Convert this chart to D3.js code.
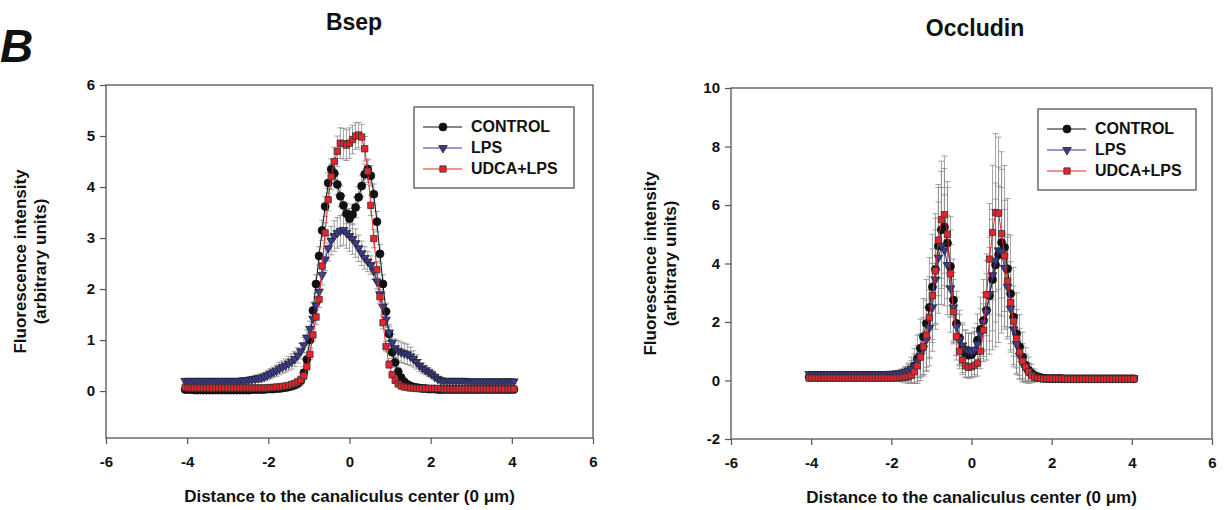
<!DOCTYPE html>
<html>
<head>
<meta charset="utf-8">
<script src="https://cdn.jsdelivr.net/npm/d3@7"></script>
<style>
  body { margin: 0; background: #fff; }
  text { font-family: Arial, "Liberation Sans", sans-serif; font-weight: bold; fill: #111; }
</style>
</head>
<body>
<svg id="fig" width="1227" height="510"></svg>
<script>
// distance to the canaliculus center (um), shared by every profile
const distance = [
  -4.05,-3.975,-3.9,-3.825,-3.75,-3.675,-3.6,-3.525,-3.45,-3.375,
  -3.3,-3.225,-3.15,-3.075,-3,-2.925,-2.85,-2.775,-2.7,-2.625,
  -2.55,-2.475,-2.4,-2.325,-2.25,-2.175,-2.1,-2.025,-1.95,
  -1.875,-1.8,-1.725,-1.65,-1.575,-1.5,-1.425,-1.35,-1.275,-1.2,
  -1.125,-1.05,-0.975,-0.9,-0.825,-0.75,-0.675,-0.6,-0.525,-0.45,
  -0.375,-0.3,-0.225,-0.15,-0.075,0,0.075,0.15,0.225,0.3,
  0.375,0.45,0.525,0.6,0.675,0.75,0.825,0.9,0.975,1.05,
  1.125,1.2,1.275,1.35,1.425,1.5,1.575,1.65,1.725,1.8,1.875,
  1.95,2.025,2.1,2.175,2.25,2.325,2.4,2.475,2.55,2.625,
  2.7,2.775,2.85,2.925,3,3.075,3.15,3.225,3.3,3.375,
  3.45,3.525,3.6,3.675,3.75,3.825,3.9,3.975,4.05
];

const seriesNames = ["CONTROL", "LPS", "UDCA+LPS"];

// ---- Bsep ----
const bsepControl = [
  0.03,0.03,0.03,0.02,0.02,0.02,0.02,0.02,0.02,0.02,
  0.02,0.02,0.02,0.02,0.02,0.02,0.02,0.02,0.02,0.02,
  0.02,0.02,0.03,0.03,0.03,0.03,0.03,0.04,0.04,
  0.04,0.05,0.05,0.06,0.07,0.08,0.1,0.12,0.15,0.2,
  0.36,0.62,1.0,1.58,2.1,2.65,3.15,3.62,4.08,4.35,
  4.27,4.05,3.82,3.64,3.48,3.38,3.46,3.6,3.8,4.02,
  4.25,4.35,4.22,3.86,3.32,2.69,2.1,1.56,1.12,0.76,
  0.56,0.38,0.26,0.18,0.13,0.1,0.08,0.07,0.06,0.05,0.05,
  0.04,0.04,0.04,0.03,0.03,0.03,0.03,0.03,0.03,0.03,
  0.03,0.03,0.03,0.03,0.03,0.03,0.03,0.03,0.03,0.03,
  0.03,0.03,0.03,0.03,0.03,0.03,0.03,0.03,0.03
];
const bsepControlErr = [
  0.06,0.06,0.06,0.06,0.06,0.06,0.06,0.06,0.06,0.06,
  0.06,0.06,0.06,0.06,0.06,0.06,0.06,0.06,0.06,0.06,
  0.06,0.06,0.06,0.06,0.06,0.06,0.06,0.06,0.06,
  0.06,0.06,0.06,0.06,0.07,0.07,0.08,0.08,0.09,0.1,
  0.12,0.14,0.15,0.16,0.18,0.18,0.2,0.2,0.2,0.2,
  0.2,0.2,0.2,0.2,0.2,0.2,0.2,0.2,0.2,0.2,
  0.2,0.2,0.2,0.2,0.2,0.18,0.18,0.16,0.14,0.12,
  0.1,0.09,0.08,0.07,0.07,0.06,0.06,0.06,0.06,0.06,0.06,
  0.05,0.05,0.05,0.05,0.05,0.05,0.05,0.05,0.05,0.05,
  0.05,0.05,0.05,0.05,0.05,0.05,0.05,0.05,0.05,0.05,
  0.05,0.05,0.05,0.05,0.05,0.05,0.05,0.05,0.05
];
const bsepLps = [
  0.2,0.2,0.2,0.2,0.2,0.2,0.2,0.2,0.2,0.2,
  0.2,0.2,0.2,0.2,0.2,0.2,0.2,0.2,0.2,0.21,
  0.21,0.22,0.23,0.24,0.25,0.26,0.28,0.31,0.34,
  0.37,0.4,0.44,0.47,0.5,0.54,0.58,0.63,0.7,0.78,
  0.9,1.05,1.22,1.42,1.68,1.95,2.28,2.58,2.8,2.95,
  3.04,3.1,3.14,3.16,3.1,3.04,2.98,2.9,2.8,2.7,
  2.61,2.54,2.47,2.35,2.15,1.9,1.65,1.4,1.15,0.95,
  0.84,0.79,0.76,0.74,0.72,0.68,0.63,0.57,0.5,0.45,0.41,
  0.37,0.33,0.28,0.24,0.21,0.2,0.2,0.2,0.2,0.2,
  0.2,0.2,0.2,0.19,0.19,0.19,0.19,0.19,0.19,0.19,
  0.19,0.19,0.19,0.19,0.19,0.19,0.19,0.19,0.19
];
const bsepLpsErr = [
  0.04,0.04,0.04,0.04,0.04,0.04,0.04,0.04,0.04,0.04,
  0.04,0.04,0.04,0.04,0.04,0.04,0.04,0.04,0.04,0.05,
  0.05,0.06,0.06,0.07,0.07,0.08,0.08,0.09,0.1,
  0.1,0.11,0.12,0.12,0.13,0.14,0.15,0.15,0.15,0.15,
  0.15,0.15,0.15,0.15,0.16,0.18,0.2,0.22,0.25,0.28,
  0.3,0.3,0.3,0.3,0.3,0.3,0.3,0.28,0.26,0.24,
  0.22,0.2,0.18,0.16,0.15,0.15,0.15,0.15,0.15,0.16,
  0.18,0.2,0.2,0.2,0.2,0.18,0.16,0.14,0.12,0.1,0.09,
  0.08,0.07,0.06,0.05,0.05,0.04,0.04,0.04,0.04,0.04,
  0.04,0.04,0.04,0.04,0.04,0.04,0.04,0.04,0.04,0.04,
  0.04,0.04,0.04,0.04,0.04,0.04,0.04,0.04,0.04
];
const bsepUdca = [
  0.07,0.06,0.06,0.06,0.06,0.06,0.06,0.06,0.06,0.06,
  0.06,0.06,0.06,0.06,0.06,0.06,0.06,0.06,0.06,0.06,
  0.06,0.06,0.06,0.06,0.06,0.06,0.06,0.06,0.07,
  0.07,0.08,0.08,0.09,0.1,0.11,0.13,0.15,0.18,0.22,
  0.3,0.48,0.72,1.1,1.45,1.8,2.45,3.1,3.75,4.2,
  4.5,4.7,4.86,4.85,4.82,4.86,4.93,5.0,5.02,4.98,
  4.75,4.31,3.64,2.99,2.38,1.85,1.34,0.87,0.52,0.32,
  0.21,0.14,0.1,0.08,0.07,0.06,0.06,0.05,0.05,0.05,0.05,
  0.05,0.05,0.05,0.05,0.05,0.04,0.04,0.04,0.04,0.04,
  0.04,0.04,0.04,0.04,0.04,0.04,0.04,0.04,0.04,0.04,
  0.04,0.04,0.04,0.04,0.04,0.04,0.04,0.04,0.04
];
const bsepUdcaErr = [
  0.03,0.03,0.03,0.03,0.03,0.03,0.03,0.03,0.03,0.03,
  0.03,0.03,0.03,0.03,0.03,0.03,0.03,0.03,0.03,0.03,
  0.03,0.03,0.03,0.03,0.03,0.03,0.03,0.03,0.03,
  0.03,0.03,0.03,0.03,0.04,0.04,0.04,0.05,0.05,0.06,
  0.07,0.08,0.1,0.12,0.14,0.16,0.18,0.2,0.22,0.25,
  0.28,0.3,0.3,0.3,0.3,0.3,0.28,0.26,0.25,0.25,
  0.24,0.22,0.2,0.18,0.16,0.14,0.12,0.1,0.08,0.06,
  0.05,0.04,0.04,0.03,0.03,0.03,0.03,0.03,0.03,0.03,0.03,
  0.03,0.03,0.03,0.03,0.03,0.03,0.03,0.03,0.03,0.03,
  0.03,0.03,0.03,0.03,0.03,0.03,0.03,0.03,0.03,0.03,
  0.03,0.03,0.03,0.03,0.03,0.03,0.03,0.03,0.03
];

// ---- Occludin ----
const occControl = [
  0.12,0.12,0.12,0.12,0.12,0.12,0.12,0.12,0.12,0.12,
  0.12,0.12,0.12,0.12,0.12,0.12,0.12,0.12,0.12,0.12,
  0.12,0.12,0.12,0.12,0.12,0.12,0.12,0.12,0.13,
  0.14,0.15,0.17,0.2,0.25,0.35,0.5,0.75,1.1,1.5,
  1.95,2.5,3.2,3.8,4.6,5.15,5.25,4.7,3.9,2.75,
  1.95,1.45,1.12,0.92,0.86,0.88,1.0,1.38,1.75,2.05,
  2.4,2.9,3.45,3.95,4.3,4.72,4.55,3.82,2.97,2.17,
  1.6,1.15,0.8,0.52,0.35,0.24,0.17,0.12,0.1,0.08,0.07,
  0.07,0.07,0.07,0.07,0.07,0.06,0.06,0.06,0.06,0.06,
  0.06,0.06,0.06,0.06,0.06,0.06,0.06,0.06,0.06,0.06,
  0.06,0.06,0.06,0.06,0.06,0.06,0.06,0.06,0.06
];
const occControlErr = [
  0.05,0.05,0.05,0.05,0.05,0.05,0.05,0.05,0.05,0.05,
  0.05,0.05,0.05,0.05,0.05,0.05,0.05,0.05,0.05,0.05,
  0.05,0.05,0.05,0.05,0.05,0.06,0.08,0.1,0.12,
  0.15,0.18,0.22,0.28,0.35,0.45,0.6,0.8,1.0,1.3,
  1.5,1.7,1.8,1.9,2.0,2.0,2.0,1.9,1.7,1.4,
  1.1,0.95,0.85,0.8,0.75,0.75,0.8,0.9,1.1,1.4,
  1.7,2.0,2.4,2.8,3.0,3.1,2.8,2.4,2.0,1.7,
  1.4,1.1,0.85,0.6,0.45,0.32,0.22,0.15,0.1,0.08,0.06,
  0.05,0.05,0.05,0.05,0.05,0.05,0.05,0.05,0.05,0.05,
  0.05,0.05,0.05,0.05,0.05,0.05,0.05,0.05,0.05,0.05,
  0.05,0.05,0.05,0.05,0.05,0.05,0.05,0.05,0.05
];
const occLps = [
  0.22,0.22,0.22,0.22,0.22,0.22,0.22,0.22,0.22,0.22,
  0.22,0.22,0.22,0.22,0.22,0.22,0.22,0.22,0.22,0.22,
  0.22,0.22,0.22,0.22,0.22,0.22,0.22,0.23,0.23,
  0.24,0.25,0.27,0.3,0.34,0.4,0.5,0.65,0.85,1.1,
  1.4,1.8,2.5,3.45,4.2,4.6,4.45,3.95,3.15,2.5,
  1.85,1.4,1.2,1.08,1.02,1.0,1.05,1.25,1.6,2.0,
  2.35,2.95,3.6,4.1,4.45,4.4,3.85,3.2,2.45,1.75,
  1.25,0.85,0.58,0.4,0.28,0.2,0.15,0.12,0.1,0.09,0.09,
  0.08,0.08,0.08,0.08,0.08,0.08,0.08,0.08,0.08,0.08,
  0.08,0.08,0.08,0.08,0.08,0.08,0.08,0.08,0.08,0.08,
  0.08,0.08,0.08,0.08,0.08,0.08,0.08,0.08,0.08
];
const occLpsErr = [
  0.05,0.05,0.05,0.05,0.05,0.05,0.05,0.05,0.05,0.05,
  0.05,0.05,0.05,0.05,0.05,0.05,0.05,0.05,0.05,0.05,
  0.05,0.05,0.05,0.05,0.05,0.05,0.05,0.06,0.07,
  0.08,0.1,0.12,0.15,0.2,0.28,0.4,0.55,0.7,0.9,
  1.1,1.3,1.5,1.7,1.9,2.0,1.9,1.7,1.5,1.2,
  1.0,0.85,0.7,0.65,0.6,0.6,0.62,0.7,0.85,1.0,
  1.3,1.6,1.9,2.1,2.2,2.2,2.0,1.7,1.4,1.2,
  1.0,0.8,0.6,0.45,0.32,0.22,0.15,0.1,0.08,0.06,0.05,
  0.04,0.04,0.04,0.04,0.04,0.04,0.04,0.04,0.04,0.04,
  0.04,0.04,0.04,0.04,0.04,0.04,0.04,0.04,0.04,0.04,
  0.04,0.04,0.04,0.04,0.04,0.04,0.04,0.04,0.04
];
const occUdca = [
  0.08,0.08,0.08,0.08,0.08,0.08,0.08,0.08,0.08,0.08,
  0.08,0.08,0.08,0.08,0.08,0.08,0.08,0.08,0.08,0.08,
  0.08,0.08,0.08,0.08,0.08,0.08,0.08,0.08,0.08,
  0.09,0.09,0.1,0.11,0.13,0.18,0.3,0.5,0.8,1.15,
  1.55,2.15,2.9,3.75,4.8,5.5,5.67,5.0,3.65,2.35,
  1.5,1.0,0.7,0.5,0.45,0.47,0.52,0.6,1.0,1.72,
  2.93,4.15,5.06,5.74,5.72,5.02,4.26,3.4,2.66,2.03,
  1.43,0.97,0.66,0.46,0.29,0.17,0.1,0.08,0.07,0.06,0.06,
  0.06,0.06,0.06,0.06,0.06,0.05,0.05,0.05,0.05,0.05,
  0.05,0.05,0.05,0.05,0.05,0.05,0.05,0.05,0.05,0.05,
  0.05,0.05,0.05,0.05,0.05,0.05,0.05,0.05,0.05
];
const occUdcaErr = [
  0.04,0.04,0.04,0.04,0.04,0.04,0.04,0.04,0.04,0.04,
  0.04,0.04,0.04,0.04,0.04,0.04,0.04,0.04,0.04,0.04,
  0.04,0.04,0.04,0.04,0.04,0.04,0.04,0.04,0.04,
  0.05,0.06,0.08,0.1,0.15,0.25,0.4,0.6,0.8,1.0,
  1.2,1.4,1.6,1.8,1.9,2.0,2.0,1.8,1.5,1.1,
  0.8,0.6,0.5,0.4,0.38,0.38,0.4,0.45,0.6,0.9,
  1.4,1.9,2.3,2.7,2.6,2.2,1.9,1.6,1.4,1.2,
  1.0,0.8,0.6,0.45,0.3,0.2,0.14,0.1,0.07,0.05,0.04,
  0.04,0.04,0.04,0.04,0.04,0.04,0.04,0.04,0.04,0.04,
  0.04,0.04,0.04,0.04,0.04,0.04,0.04,0.04,0.04,0.04,
  0.04,0.04,0.04,0.04,0.04,0.04,0.04,0.04,0.04
];

const xTicks = [-6, -4, -2, 0, 2, 4, 6];
const bsepYTicks = [0, 1, 2, 3, 4, 5, 6];
const occYTicks = [-2, 0, 2, 4, 6, 8, 10];

// series look: marker, fill, line colour
const styles = [
  { sym: d3.symbolCircle,   size: 50, fill: "#111",    stroke: "#111", line: "#111",    rot: 0 },
  { sym: d3.symbolTriangle, size: 32, fill: "#3a3a8e", stroke: "#222", line: "#33338f", rot: 180 },
  { sym: d3.symbolSquare,   size: 40, fill: "#e8232b", stroke: "#333", line: "#e8232b", rot: 0 }
];

const svg = d3.select("#fig");
const plain = d => String(d);   // keeps "6" and a plain hyphen for "-2"

svg.append("text").text("B")
   .attr("x", 0).attr("y", 62)
   .style("font-size", "46px").style("font-style", "italic");

function panel(cfg) {
  const x = d3.scaleLinear().domain([-6, 6]).range([cfg.left, cfg.right]);
  const y = d3.scaleLinear().domain(cfg.yDomain).range([cfg.bottom, cfg.top]);
  const g = svg.append("g");

  // title
  g.append("text").text(cfg.title)
   .attr("x", cfg.titleX).attr("y", cfg.titleY)
   .attr("text-anchor", "middle").style("font-size", "23px");

  // frame
  g.append("rect")
   .attr("x", cfg.left).attr("y", cfg.top)
   .attr("width", cfg.right - cfg.left).attr("height", cfg.bottom - cfg.top)
   .attr("fill", "none").attr("stroke", "#555").attr("stroke-width", 1.3);

  // axes
  const xAxis = d3.axisBottom(x).tickValues(xTicks).tickFormat(plain).tickSize(6).tickPadding(12);
  const gx = g.append("g").attr("transform", `translate(0,${cfg.bottom})`).call(xAxis);
  const yAxis = d3.axisLeft(y).tickValues(cfg.yTicks).tickFormat(plain).tickSize(6).tickPadding(5);
  const gy = g.append("g").attr("transform", `translate(${cfg.left},0)`).call(yAxis);
  [gx, gy].forEach(a => {
    a.select(".domain").remove();
    a.selectAll(".tick line").attr("stroke", "#555").attr("stroke-width", 1.2);
    a.selectAll(".tick text").style("font-size", "15px")
     .style("font-family", "Arial, 'Liberation Sans', sans-serif").style("font-weight", "bold").attr("fill", "#111");
  });

  // axis titles
  g.append("text").text("Distance to the canaliculus center (0 μm)")
   .attr("x", (cfg.left + cfg.right) / 2).attr("y", cfg.bottom + 64)
   .attr("text-anchor", "middle").style("font-size", "17px");
  const ymid = (cfg.top + cfg.bottom) / 2;
  g.append("text").text("Fluorescence intensity")
   .attr("transform", `translate(${cfg.yLabelX},${ymid}) rotate(-90)`)
   .attr("text-anchor", "middle").style("font-size", "17px");
  g.append("text").text("(arbitrary units)")
   .attr("transform", `translate(${cfg.yLabelX + 20},${ymid}) rotate(-90)`)
   .attr("text-anchor", "middle").style("font-size", "17px");

  // error bars
  cfg.series.forEach(s => {
    const rows = distance.map((d, i) => ({ x: d, v: s.values[i], e: s.err[i] }));
    const eb = g.append("g").attr("stroke", "#8a8a8a").attr("stroke-width", 0.8);
    eb.selectAll("line.v").data(rows).join("line").attr("class", "v")
      .attr("x1", d => x(d.x)).attr("x2", d => x(d.x))
      .attr("y1", d => y(d.v - d.e)).attr("y2", d => y(d.v + d.e));
    [-1, 1].forEach(sgn => {
      eb.selectAll("line.c" + (sgn > 0 ? "p" : "m")).data(rows).join("line")
        .attr("class", "c" + (sgn > 0 ? "p" : "m"))
        .attr("x1", d => x(d.x) - 3).attr("x2", d => x(d.x) + 3)
        .attr("y1", d => y(d.v + sgn * d.e)).attr("y2", d => y(d.v + sgn * d.e));
    });
  });

  // lines and symbols, one series after another
  cfg.series.forEach((s, k) => {
    const st = styles[k];
    const rows = distance.map((d, i) => ({ x: d, v: s.values[i] }));
    g.append("path").datum(rows)
     .attr("fill", "none").attr("stroke", st.line).attr("stroke-width", 1)
     .attr("d", d3.line().x(d => x(d.x)).y(d => y(d.v)));
    g.append("g").selectAll("path").data(rows).join("path")
     .attr("d", d3.symbol().type(st.sym).size(st.size))
     .attr("transform", d => `translate(${x(d.x)},${y(d.v)}) rotate(${st.rot})`)
     .attr("fill", st.fill).attr("stroke", st.stroke).attr("stroke-width", 0.8);
  });

  // legend
  const lg = cfg.legend;
  g.append("rect").attr("x", lg.x).attr("y", lg.y).attr("width", lg.w).attr("height", lg.h)
   .attr("fill", "#fff").attr("stroke", "#555").attr("stroke-width", 1.3);
  seriesNames.forEach((name, k) => {
    const st = styles[k];
    const yy = lg.y + 20 + k * 21;
    g.append("line").attr("x1", lg.x + 9).attr("x2", lg.x + 48).attr("y1", yy).attr("y2", yy)
     .attr("stroke", st.line).attr("stroke-width", 1);
    g.append("path").attr("d", d3.symbol().type(st.sym).size(st.size)())
     .attr("transform", `translate(${lg.x + 29},${yy}) rotate(${st.rot})`)
     .attr("fill", st.fill).attr("stroke", st.stroke).attr("stroke-width", 0.8);
    g.append("text").text(name).attr("x", lg.x + 57).attr("y", yy + 5).style("font-size", "16px");
  });
}

panel({
  title: "Bsep", titleX: 354, titleY: 30,
  left: 106, right: 593, top: 85, bottom: 438,
  yDomain: [-0.92, 6], yTicks: bsepYTicks, yLabelX: 26,
  legend: { x: 414, y: 107, w: 160, h: 81 },
  series: [
    { values: bsepControl, err: bsepControlErr },
    { values: bsepLps, err: bsepLpsErr },
    { values: bsepUdca, err: bsepUdcaErr }
  ]
});

panel({
  title: "Occludin", titleX: 975, titleY: 36,
  left: 731, right: 1212, top: 88, bottom: 439,
  yDomain: [-2, 10], yTicks: occYTicks, yLabelX: 656,
  legend: { x: 1038, y: 109, w: 158, h: 81 },
  series: [
    { values: occControl, err: occControlErr },
    { values: occLps, err: occLpsErr },
    { values: occUdca, err: occUdcaErr }
  ]
});
</script>
</body>
</html>
